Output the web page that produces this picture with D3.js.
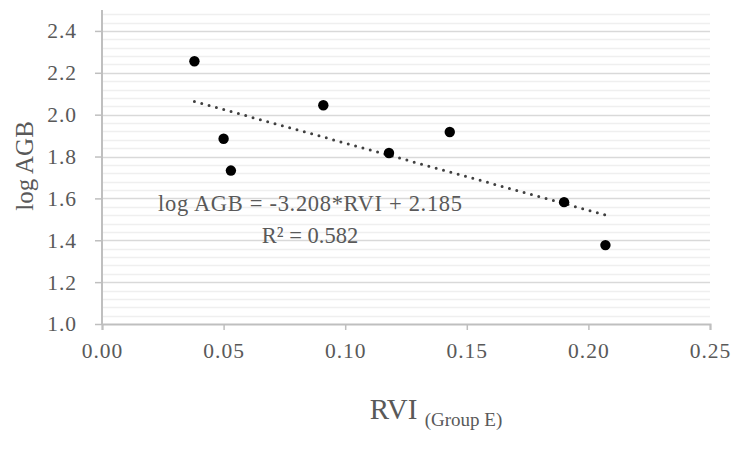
<!DOCTYPE html>
<html>
<head>
<meta charset="utf-8">
<script src="https://cdn.jsdelivr.net/npm/d3@7"></script>
<style>
  body { margin: 0; background: #fff; }
  svg text { font-family: "Liberation Serif", serif; fill: #595959; }
</style>
</head>
<body>
<div id="chart"></div>
<script>
// RVI (Group E) vs log AGB scatter with linear trendline

const rvi = [0.038, 0.050, 0.053, 0.091, 0.118, 0.143, 0.190, 0.207];
const logAgb = [2.255, 1.885, 1.733, 2.045, 1.817, 1.917, 1.582, 1.377];
const xTicks = [0, 0.05, 0.10, 0.15, 0.20, 0.25];
const yTicks = [1.0, 1.2, 1.4, 1.6, 1.8, 2.0, 2.2, 2.4];
const trendSlope = -3.208, trendIntercept = 2.185;
const eqLabel = "log AGB = -3.208*RVI + 2.185";
const r2Label = "R² = 0.582";

const width = 732, height = 454;
const svg = d3.select("#chart").append("svg")
  .attr("width", width)
  .attr("height", height);

const x = d3.scaleLinear().domain([0, 0.25]).range([102, 710]);
const y = d3.scaleLinear().domain([1.0, 2.5]).range([324, 10]);

// minor gridlines (0.04 step)
const minor = d3.range(1.04, 2.5, 0.04).filter(v => Math.abs(v * 5 - Math.round(v * 5)) > 1e-6);
svg.append("g").selectAll("line")
  .data(minor)
  .enter().append("line")
    .attr("x1", x(0)).attr("x2", x(0.25))
    .attr("y1", d => Math.round(y(d)) + 0.5).attr("y2", d => Math.round(y(d)) + 0.5)
    .attr("stroke", "#efefef").attr("stroke-width", 1.5);

// major gridlines
svg.append("g").selectAll("line")
  .data(yTicks.slice(1))
  .enter().append("line")
    .attr("x1", x(0)).attr("x2", x(0.25))
    .attr("y1", d => Math.round(y(d)) + 0.5).attr("y2", d => Math.round(y(d)) + 0.5)
    .attr("stroke", "#d9d9d9").attr("stroke-width", 1.5);

// Y axis
const yAxis = svg.append("g")
  .attr("transform", `translate(${x(0)},0)`)
  .call(d3.axisLeft(y).tickValues(yTicks).tickSize(7).tickPadding(18).tickFormat(d3.format(".1f")));
yAxis.select(".domain").attr("d", `M0,${y(1.0)}V${y(2.5)}`);

// X axis
const xAxis = svg.append("g")
  .attr("transform", `translate(0,${y(1.0)})`)
  .call(d3.axisBottom(x).tickValues(xTicks).tickSize(6).tickPadding(13).tickFormat(d3.format(".2f")));

svg.selectAll(".domain").attr("stroke", "#bfbfbf").attr("stroke-width", 2);
svg.selectAll(".tick line").attr("stroke", "#bfbfbf").attr("stroke-width", 1.5);
svg.selectAll(".tick text")
  .style("font-family", "'Liberation Serif', serif")
  .style("font-size", "21.5px")
  .style("letter-spacing", "1px")
  .attr("fill", "#595959");

// trendline
const xr = d3.extent(rvi);
svg.append("line")
  .attr("x1", x(xr[0])).attr("y1", y(trendSlope * xr[0] + trendIntercept))
  .attr("x2", x(xr[1])).attr("y2", y(trendSlope * xr[1] + trendIntercept))
  .attr("stroke", "#404040")
  .attr("stroke-width", 3)
  .attr("stroke-linecap", "round")
  .attr("stroke-dasharray", "0,7.6");

// points
svg.append("g").selectAll("circle")
  .data(rvi)
  .enter().append("circle")
    .attr("cx", d => x(d))
    .attr("cy", (d, i) => y(logAgb[i]))
    .attr("r", 5.2)
    .attr("fill", "#000");

// trendline equation
svg.append("text")
  .attr("x", 310).attr("y", 211)
  .attr("text-anchor", "middle")
  .attr("textLength", 304)
  .attr("lengthAdjust", "spacing")
  .style("font-size", "22.5px")
  .text(eqLabel);

svg.append("text")
  .attr("x", 310).attr("y", 243)
  .attr("text-anchor", "middle")
  .style("font-size", "22.5px")
  .text(r2Label);

// axis titles
svg.append("text")
  .attr("transform", "translate(33,166) rotate(-90)")
  .attr("text-anchor", "middle")
  .style("font-size", "25px")
  .text("log AGB");

const xt = svg.append("text")
  .attr("x", 436).attr("y", 419)
  .attr("text-anchor", "middle")
  .style("font-size", "29px");
xt.append("tspan").text("RVI ");
xt.append("tspan")
  .attr("dy", 7)
  .style("font-size", "19px")
  .text("(Group E)");
</script>
</body>
</html>
